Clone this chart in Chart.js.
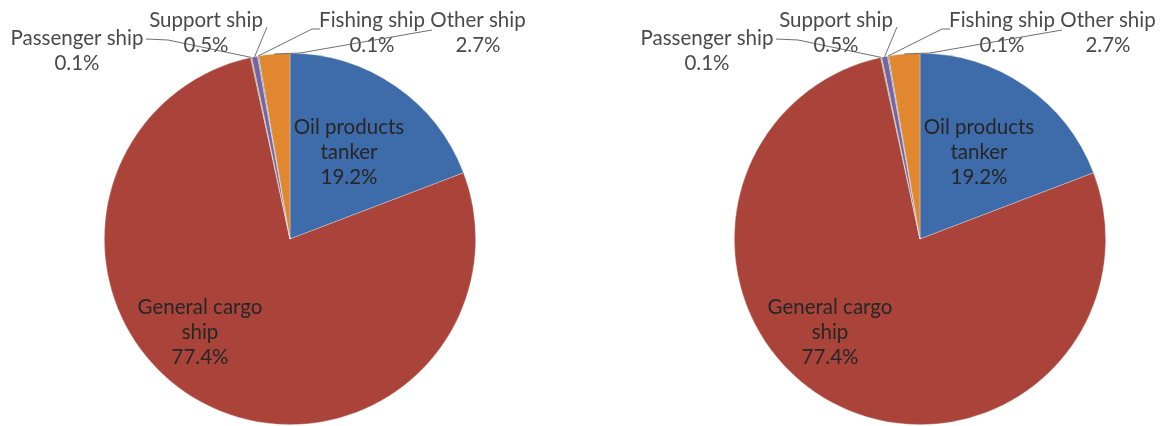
<!DOCTYPE html>
<html>
<head>
<meta charset="utf-8">
<script src="https://cdn.jsdelivr.net/npm/chart.js@4.4.1/dist/chart.umd.min.js"></script>
<style>
  html, body { margin: 0; padding: 0; background: #fff; }
  #wrap { position: relative; width: 1170px; height: 426px; }
  .pie { position: absolute; top: 0; }
</style>
</head>
<body>
<div id="wrap">
  <canvas id="pieLeft" class="pie" width="585" height="426" style="left:0"></canvas>
  <canvas id="pieRight" class="pie" width="585" height="426" style="left:585px"></canvas>
</div>
<script>
// ship types and their share of the total (%)
const categories = ['Oil products tanker', 'General cargo ship', 'Passenger ship', 'Support ship', 'Fishing ship', 'Other ship'];
const shares = [19.2, 77.4, 0.1, 0.5, 0.1, 2.7];
const labelNames = [['Oil products', 'tanker'], ['General cargo', 'ship'], ['Passenger ship'], ['Support ship'], ['Fishing ship'], ['Other ship']];
const sliceColors = ['#3e6baa', '#aa443a', '#8aaa4e', '#7a62a4', '#4aa3bd', '#e0872f'];

// label placement, offsets from the pie centre (first text line)
const labelPos = [[59, -112], [-90, 68], [-213, -201], [-84, -219], [82, -219], [188, -219]];
// leader line bends, offsets from the pie centre (null = label inside slice)
const leaderPts = [null, null, [[-122, -199], [-144, -200]], [[-23, -212]], [[22, -210], [30, -210]], [[10, -186], [142, -209]]];

const lineGap = 25;

const sliceLabels = {
    id: 'sliceLabels',
    afterDatasetsDraw(chart) {
        const ctx = chart.ctx;
        const arcs = chart.getDatasetMeta(0).data;
        ctx.save();
        arcs.forEach((arc, i) => {
            const p = arc.getProps(['x', 'y', 'startAngle', 'endAngle', 'outerRadius'], true);
            const mid = (p.startAngle + p.endAngle) / 2;
            if (leaderPts[i]) {
                ctx.beginPath();
                ctx.moveTo(p.x + Math.cos(mid) * p.outerRadius, p.y + Math.sin(mid) * p.outerRadius);
                leaderPts[i].forEach(pt => ctx.lineTo(p.x + pt[0], p.y + pt[1]));
                ctx.strokeStyle = '#6f6f6f';
                ctx.lineWidth = 1;
                ctx.stroke();
            }
            const lines = labelNames[i].concat([shares[i].toFixed(1) + '%']);
            ctx.font = '20.5px Lato, "Liberation Sans", sans-serif';
            ctx.fillStyle = leaderPts[i] ? '#4a4a4a' : '#262626';
            ctx.textAlign = 'center';
            ctx.textBaseline = 'middle';
            lines.forEach((t, k) => {
                ctx.fillText(t, p.x + labelPos[i][0], p.y + labelPos[i][1] + k * lineGap);
            });
        });
        ctx.restore();
    }
};

function drawPie(id, padding) {
    new Chart(document.getElementById(id), {
        type: 'pie',
        data: {
            labels: categories,
            datasets: [{
                data: shares,
                backgroundColor: sliceColors,
                borderColor: 'rgba(255,255,255,0.5)',
                borderWidth: 0.6
            }]
        },
        options: {
            responsive: false,
            animation: false,
            devicePixelRatio: 1,
            layout: { padding: padding },
            plugins: {
                legend: { display: false },
                tooltip: { enabled: false }
            }
        },
        plugins: [sliceLabels]
    });
}

drawPie('pieLeft', { left: 104, right: 109, top: 53, bottom: 1 });
drawPie('pieRight', { left: 149, right: 64, top: 53, bottom: 1 });
</script>
</body>
</html>
